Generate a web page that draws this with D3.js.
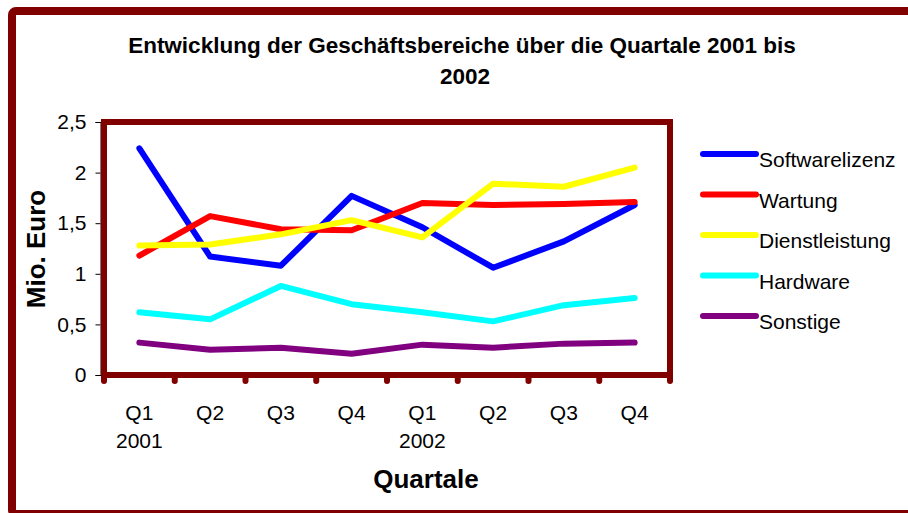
<!DOCTYPE html>
<html>
<head>
<meta charset="utf-8">
<script src="https://cdn.jsdelivr.net/npm/d3@7"></script>
<style>
  html, body { margin: 0; background: #fff; overflow: hidden; }
  svg { display: block; font-family: "Liberation Sans", Arial, sans-serif; }
</style>
</head>
<body>
<div id="chart"></div>
<script>
// quarters and year labels
const quarters = ['Q1', 'Q2', 'Q3', 'Q4', 'Q1', 'Q2', 'Q3', 'Q4'];
const years = ['2001', '', '', '', '2002', '', '', ''];
const yTicks = [0, 0.5, 1, 1.5, 2, 2.5];

// values in Mio. Euro
const softwarelizenz = [2.24, 1.17, 1.08, 1.77, 1.46, 1.06, 1.32, 1.68];
const wartung = [1.18, 1.57, 1.44, 1.43, 1.70, 1.68, 1.69, 1.71];
const dienstleistung = [1.28, 1.29, 1.39, 1.53, 1.36, 1.89, 1.86, 2.05];
const hardware = [0.62, 0.55, 0.88, 0.70, 0.62, 0.53, 0.69, 0.76];
const sonstige = [0.32, 0.25, 0.27, 0.21, 0.30, 0.27, 0.31, 0.32];

const seriesNames = ['Softwarelizenz', 'Wartung', 'Dienstleistung', 'Hardware', 'Sonstige'];
const seriesValues = [softwarelizenz, wartung, dienstleistung, hardware, sonstige];
const seriesColors = ['#0000ff', '#ff0000', '#ffff00', '#00ffff', '#800080'];

const frameColor = '#800000';
const width = 908, height = 513;
const margin = { top: 122, left: 104, right: 238, bottom: 138 };
const innerW = width - margin.left - margin.right;
const innerH = height - margin.top - margin.bottom;

const svg = d3.select('#chart').append('svg')
    .attr('width', width)
    .attr('height', height);

// outer border
svg.append('rect')
    .attr('x', 12).attr('y', 11)
    .attr('width', 960).attr('height', 503)
    .attr('rx', 4)
    .attr('fill', 'none')
    .attr('stroke', frameColor)
    .attr('stroke-width', 8);

// title
const title = svg.append('text')
    .attr('text-anchor', 'middle')
    .attr('font-weight', 'bold')
    .attr('font-size', 22.5);
title.append('tspan').attr('x', 462).attr('y', 53).text('Entwicklung der Geschäftsbereiche über die Quartale 2001 bis');
title.append('tspan').attr('x', 465).attr('y', 84).text('2002');

const g = svg.append('g')
    .attr('transform', `translate(${margin.left}, ${margin.top})`);

const xScale = d3.scaleBand()
    .domain(d3.range(quarters.length))
    .range([0, innerW]);

const yScale = d3.scaleLinear()
    .domain([0, 2.5])
    .range([innerH, 0]);

// y axis (thin black line with ticks)
const yAxis = d3.axisLeft(yScale)
    .tickValues(yTicks)
    .tickSize(5)
    .tickPadding(9)
    .tickFormat(d => d3.format('.1~f')(d).replace('.', ','));

const yAxisGroup = g.append('g')
    .attr('transform', 'translate(-3.5, 0)')
    .call(yAxis);
yAxisGroup.select('.domain').attr('stroke', '#000').attr('stroke-width', 1);
yAxisGroup.selectAll('.tick line').attr('stroke', '#000');
yAxisGroup.selectAll('.tick text')
    .attr('font-size', 21)
    .attr('font-family', '"Liberation Sans", Arial, sans-serif')
    .attr('fill', '#000');

// category boundary ticks (dark red stubs)
g.append('g')
    .selectAll('line')
    .data(d3.range(quarters.length + 1))
    .join('line')
    .attr('x1', i => i < quarters.length ? xScale(i) : innerW)
    .attr('x2', i => i < quarters.length ? xScale(i) : innerW)
    .attr('y1', innerH)
    .attr('y2', innerH + 6)
    .attr('stroke', frameColor)
    .attr('stroke-width', 6)
    .attr('stroke-linecap', 'round');

// plot frame
g.append('rect')
    .attr('x', 0).attr('y', 0)
    .attr('width', innerW).attr('height', innerH)
    .attr('fill', 'none')
    .attr('stroke', frameColor)
    .attr('stroke-width', 6);

// x labels
g.append('g')
    .selectAll('text')
    .data(quarters)
    .join('text')
    .attr('x', (d, i) => xScale(i) + xScale.bandwidth() / 2)
    .attr('y', innerH + 45)
    .attr('text-anchor', 'middle')
    .attr('font-size', 21)
    .text(d => d);

g.append('g')
    .selectAll('text')
    .data(years)
    .join('text')
    .attr('x', (d, i) => xScale(i) + xScale.bandwidth() / 2)
    .attr('y', innerH + 73)
    .attr('text-anchor', 'middle')
    .attr('font-size', 21)
    .text(d => d);

// axis titles
svg.append('text')
    .attr('x', 426).attr('y', 488)
    .attr('text-anchor', 'middle')
    .attr('font-weight', 'bold')
    .attr('font-size', 26)
    .text('Quartale');

svg.append('text')
    .attr('transform', 'translate(45, 249) rotate(-90)')
    .attr('text-anchor', 'middle')
    .attr('font-weight', 'bold')
    .attr('font-size', 26)
    .text('Mio. Euro');

// lines
const line = d3.line()
    .x((d, i) => xScale(i) + xScale.bandwidth() / 2)
    .y(d => yScale(d));

g.append('g')
    .selectAll('path')
    .data(seriesValues)
    .join('path')
    .attr('d', line)
    .attr('fill', 'none')
    .attr('stroke', (d, i) => seriesColors[i])
    .attr('stroke-width', 6)
    .attr('stroke-linecap', 'round')
    .attr('stroke-linejoin', 'round');

// legend
const legend = svg.append('g')
    .attr('transform', 'translate(703, 154)');

const items = legend.selectAll('g')
    .data(seriesNames)
    .join('g')
    .attr('transform', (d, i) => `translate(0, ${i * 40.5})`);

items.append('line')
    .attr('x1', 0).attr('x2', 53)
    .attr('y1', 0).attr('y2', 0)
    .attr('stroke', (d, i) => seriesColors[i])
    .attr('stroke-width', 6)
    .attr('stroke-linecap', 'round');

items.append('text')
    .attr('x', 56)
    .attr('y', 13)
    .attr('font-size', 21)
    .text(d => d);
</script>
</body>
</html>
